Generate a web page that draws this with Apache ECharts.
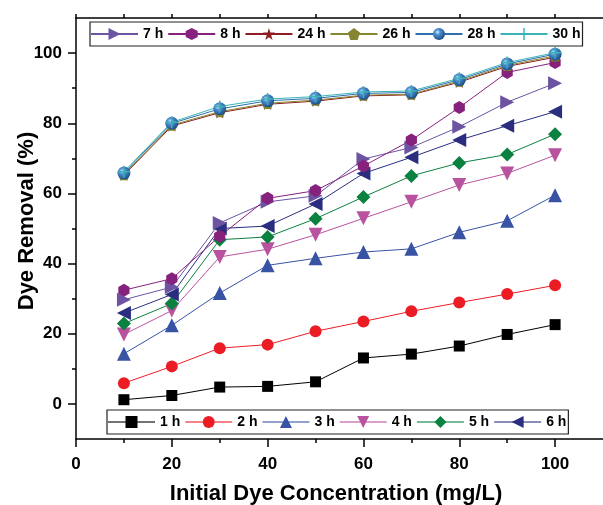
<!DOCTYPE html>
<html>
<head>
<meta charset="utf-8">
<script src="https://cdn.jsdelivr.net/npm/echarts@6/dist/echarts.min.js"></script>
<style>
    html, body { margin: 0; padding: 0; background: #fff; }
    #chart { width: 603px; height: 505px; }
</style>
</head>
<body>
<div id="chart"></div>
<script>
// initial dye concentration (mg/L)
var conc = [10, 20, 30, 40, 50, 60, 70, 80, 90, 100];

// dye removal (%) per contact time
var h1  = [1.2, 2.4, 4.8, 5.0, 6.3, 13.1, 14.2, 16.5, 19.8, 22.6];
var h2  = [5.9, 10.7, 15.9, 16.9, 20.7, 23.5, 26.4, 28.9, 31.3, 33.8];
var h3  = [14.3, 22.4, 31.6, 39.5, 41.5, 43.3, 44.2, 48.9, 52.2, 59.5];
var h4  = [19.8, 26.6, 41.9, 44.1, 48.2, 52.9, 57.6, 62.4, 65.7, 70.9];
var h5  = [22.9, 28.6, 46.8, 47.6, 52.8, 59.0, 65.0, 68.7, 71.1, 76.9];
var h6  = [25.9, 31.2, 50.0, 50.7, 57.0, 65.7, 70.3, 75.2, 79.3, 83.3];
var h7  = [29.7, 33.3, 51.6, 57.6, 59.3, 69.8, 73.1, 79.0, 86.0, 91.4];
var h8  = [32.4, 35.7, 47.8, 58.6, 60.8, 67.8, 75.2, 84.5, 94.5, 97.3];
var h24 = [65.2, 79.2, 83.0, 85.4, 86.3, 87.8, 88.1, 91.7, 96.2, 98.8];
var h26 = [65.4, 79.5, 83.3, 85.7, 86.6, 88.0, 88.3, 92.0, 96.5, 99.2];
var h28 = [65.8, 80.0, 84.1, 86.4, 87.1, 88.5, 88.8, 92.4, 96.9, 99.7];
var h30 = [66.2, 80.3, 84.8, 86.9, 87.6, 88.9, 89.2, 92.8, 97.3, 100.1];

// ticks
var xMajor = [0, 20, 40, 60, 80, 100];
var xMinor = [10, 30, 50, 70, 90];
var xTop   = [0, 10, 20, 30, 40, 50, 60, 70, 80, 90, 100];
var yMajor = [0, 20, 40, 60, 80, 100];
var yMinor = [10, 30, 50, 70, 90];

var lowNames = ['1 h', '2 h', '3 h', '4 h', '5 h', '6 h'];
var highNames = ['7 h', '8 h', '24 h', '26 h', '28 h', '30 h'];

var FONT = '"Liberation Sans", Arial, sans-serif';

var STAR = 'path://M50,0L61,35L98,35L68,57L79,91L50,70L21,91L32,57L2,35L39,35Z';
var PENTA = 'path://M50,0L98,35L79,91L21,91L2,35Z';
var HEXA = 'path://M50,0L93,25L93,75L50,100L7,75L7,25Z';
var PLUS = 'path://M4.4,0h1.2v10h-1.2z M0,4.4h10v1.2h-10z';

function pairs(ys) {
    return conc.map(function (x, i) { return [x, ys[i]]; });
}

function mk(name, ys, color, symbol, size, rotate, extra) {
    var s = {
        name: name,
        type: 'line',
        data: pairs(ys),
        symbol: symbol,
        symbolSize: size,
        symbolRotate: rotate || 0,
        symbolKeepAspect: true,
        showAllSymbol: true,
        lineStyle: { color: color, width: 1 },
        itemStyle: { color: color },
        emphasis: { disabled: true }
    };
    if (extra) {
        for (var k in extra) s[k] = extra[k];
    }
    return s;
}

var sphere = {
    type: 'radial', x: 0.38, y: 0.35, r: 0.65,
    colorStops: [
        { offset: 0, color: '#d6ecff' },
        { offset: 0.35, color: '#4b8fcf' },
        { offset: 1, color: '#1d4f86' }
    ]
};

var chart = echarts.init(document.getElementById('chart'));

var axisLine = { show: true, onZero: false, lineStyle: { color: '#000', width: 1.5 } };
var noLine = { show: false, onZero: false };
var labelStyle = { color: '#000', fontSize: 17, fontWeight: 'bold', fontFamily: FONT };

var option = {
    animation: false,
    grid: { left: 76, top: 18, width: 528, height: 421, containLabel: false },
    legend: [{
        data: highNames,
        left: 90, top: 22,
        orient: 'horizontal',
        itemWidth: 47, itemHeight: 15, itemGap: 4,
        padding: [5, 2, 5, 0],
        borderColor: '#222', borderWidth: 1.2,
        backgroundColor: '#fff',
        textStyle: { color: '#000', fontSize: 14, fontWeight: 'bold', fontFamily: FONT },
        selectedMode: false
    }, {
        data: lowNames,
        left: 107, top: 410,
        orient: 'horizontal',
        itemWidth: 47, itemHeight: 15, itemGap: 4,
        padding: [5, 2, 5, 0],
        borderColor: '#222', borderWidth: 1.2,
        backgroundColor: '#fff',
        lineStyle: { opacity: 0.55 },
        textStyle: { color: '#000', fontSize: 14, fontWeight: 'bold', fontFamily: FONT },
        selectedMode: false
    }],
    xAxis: [{
        type: 'value', position: 'bottom', min: 0, max: 110,
        axisLine: axisLine,
        axisTick: { show: true, inside: false, length: 8, customValues: xMajor, lineStyle: { color: '#000', width: 1.5 } },
        axisLabel: Object.assign({ margin: 17, customValues: xMajor }, labelStyle),
        splitLine: { show: false }
    }, {
        type: 'value', position: 'bottom', min: 0, max: 110,
        axisLine: noLine,
        axisTick: { show: true, inside: false, length: 4, customValues: xMinor, lineStyle: { color: '#000', width: 1.5 } },
        axisLabel: { show: false },
        splitLine: { show: false }
    }, {
        type: 'value', position: 'top', min: 0, max: 110,
        axisLine: axisLine,
        axisTick: { show: true, inside: false, length: 4, customValues: xTop, lineStyle: { color: '#000', width: 1.5 } },
        axisLabel: { show: false },
        splitLine: { show: false }
    }],
    yAxis: [{
        type: 'value', position: 'left', min: -10, max: 110,
        axisLine: axisLine,
        axisTick: { show: true, inside: false, length: 8, customValues: yMajor, lineStyle: { color: '#000', width: 1.5 } },
        axisLabel: Object.assign({ margin: 14, customValues: yMajor }, labelStyle),
        splitLine: { show: false }
    }, {
        type: 'value', position: 'left', min: -10, max: 110,
        axisLine: noLine,
        axisTick: { show: true, inside: false, length: 4, customValues: yMinor, lineStyle: { color: '#000', width: 1.5 } },
        axisLabel: { show: false },
        splitLine: { show: false }
    }],
    graphic: [{
        type: 'text', x: 336, y: 494,
        style: {
            text: 'Initial Dye Concentration (mg/L)',
            font: 'bold 22px ' + FONT, fill: '#000',
            textAlign: 'center', textVerticalAlign: 'middle'
        }
    }, {
        type: 'text', x: 27, y: 221, rotation: Math.PI / 2,
        style: {
            text: 'Dye Removal (%)',
            font: 'bold 22px ' + FONT, fill: '#000',
            textAlign: 'center', textVerticalAlign: 'middle'
        }
    }],
    series: [
        mk('1 h', h1, '#000000', 'rect', 11),
        mk('2 h', h2, '#ec1c24', 'circle', 12),
        mk('3 h', h3, '#3953a4', 'triangle', 14),
        mk('4 h', h4, '#b9529f', 'triangle', 14, 180),
        mk('5 h', h5, '#0b8140', 'diamond', 14),
        mk('6 h', h6, '#2b2e7f', 'triangle', 14, 90),
        mk('7 h', h7, '#6c54a3', 'triangle', 14, -90),
        mk('8 h', h8, '#86217e', HEXA, 13),
        mk('24 h', h24, '#8f1d21', STAR, 12),
        mk('26 h', h26, '#878630', PENTA, 12),
        mk('28 h', h28, '#2c6fae', 'circle', 13, 0, {
            itemStyle: { color: sphere },
            lineStyle: { color: '#2c6fae', width: 1 }
        }),
        mk('30 h', h30, '#39b3b5', PLUS, 12)
    ]
};

chart.setOption(option);
</script>
</body>
</html>
